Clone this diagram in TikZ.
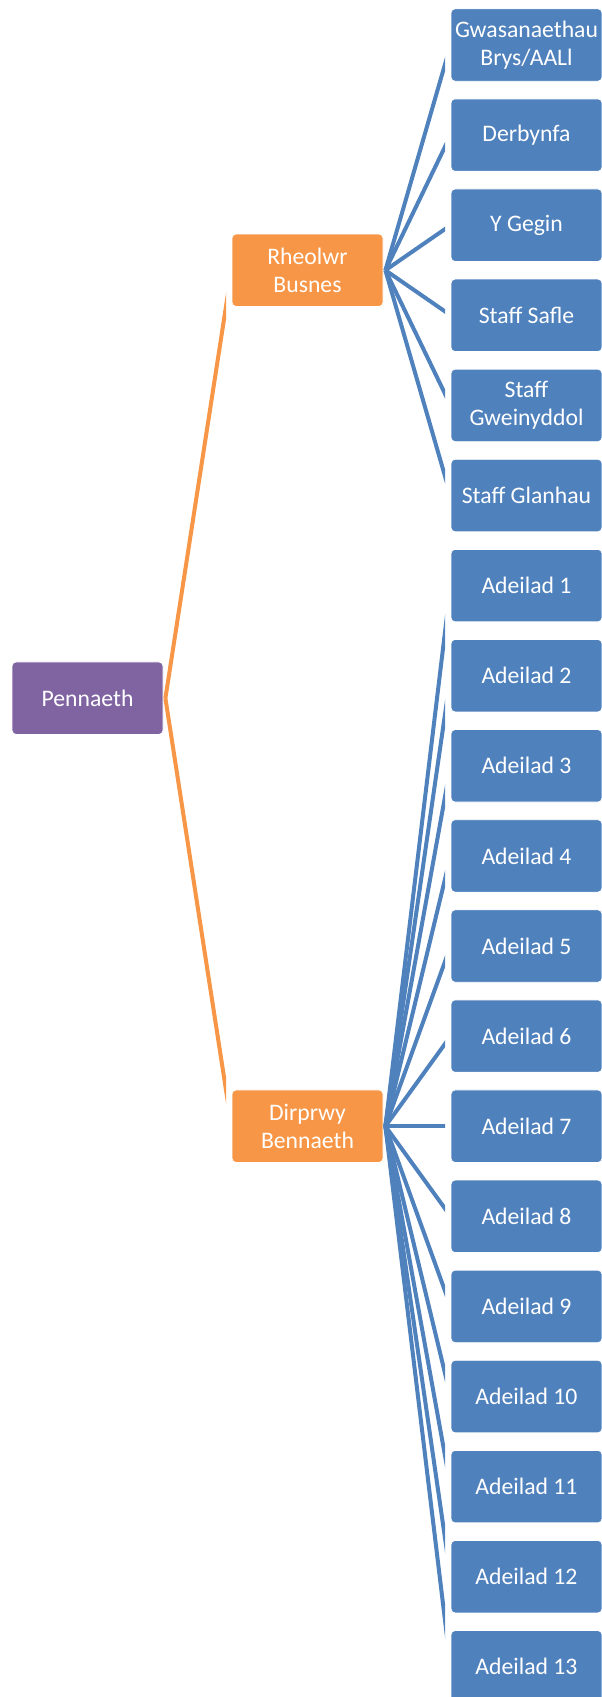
\documentclass[tikz,border=0pt]{standalone}
\usepackage{fontspec}
\setmainfont{Carlito}
\definecolor{headpurple}{HTML}{8064A2}
\definecolor{mgrorange}{HTML}{F79646}
\definecolor{staffblue}{HTML}{4F81BD}
\begin{document}
\begin{tikzpicture}[x=1pt, y=-1pt,
	box/.style={shape=rectangle, rounded corners=4pt, draw=white, line width=0.8pt, minimum width=151pt, minimum height=72.5pt, inner sep=0pt, align=center, text=white, font=\fontsize{23.7}{27.5}\selectfont},
	headbox/.style={box, fill=headpurple},
	mgrbox/.style={box, fill=mgrorange},
	staffbox/.style={box, fill=staffblue},
	orangewire/.style={draw=mgrorange, line width=4pt},
	bluewire/.style={draw=staffblue, line width=4pt}]
	\useasboundingbox (0, 0) rectangle (602, 1697);
	% Head and managers:
	\node[headbox] (pennaeth) at (87.5, 698.2) {Pennaeth};
	\node[mgrbox] (rheolwr) at (307.5, 270.25) {Rheolwr\\Busnes};
	\node[mgrbox] (dirprwy) at (307.5, 1126.2) {Dirprwy\\Bennaeth};
	% Business manager's staff:
	\node[staffbox] (brys) at (526.5, 45) {Gwasanaethau\\Brys/AALl};
	\node[staffbox] (derbynfa) at (526.5, 135.1) {Derbynfa};
	\node[staffbox] (gegin) at (526.5, 225.2) {Y Gegin};
	\node[staffbox] (safle) at (526.5, 315.3) {Staff Safle};
	\node[staffbox] (gweinyddol) at (526.5, 405.4) {Staff\\Gweinyddol};
	\node[staffbox] (glanhau) at (526.5, 495.5) {Staff Glanhau};
	% Buildings:
	\node[staffbox] (adeilad1) at (526.5, 585.6) {Adeilad 1};
	\node[staffbox] (adeilad2) at (526.5, 675.7) {Adeilad 2};
	\node[staffbox] (adeilad3) at (526.5, 765.8) {Adeilad 3};
	\node[staffbox] (adeilad4) at (526.5, 855.9) {Adeilad 4};
	\node[staffbox] (adeilad5) at (526.5, 946) {Adeilad 5};
	\node[staffbox] (adeilad6) at (526.5, 1036.1) {Adeilad 6};
	\node[staffbox] (adeilad7) at (526.5, 1126.2) {Adeilad 7};
	\node[staffbox] (adeilad8) at (526.5, 1216.3) {Adeilad 8};
	\node[staffbox] (adeilad9) at (526.5, 1306.4) {Adeilad 9};
	\node[staffbox] (adeilad10) at (526.5, 1396.5) {Adeilad 10};
	\node[staffbox] (adeilad11) at (526.5, 1486.6) {Adeilad 11};
	\node[staffbox] (adeilad12) at (526.5, 1576.7) {Adeilad 12};
	\node[staffbox] (adeilad13) at (526.5, 1666.8) {Adeilad 13};
	% Wires (ends cut off square, short of the boxes):
	\begin{scope}
		\clip (0, 0) rectangle (226, 1697);
		\draw[orangewire] ([xshift=2pt]pennaeth.east) -- (rheolwr.west);
		\draw[orangewire] ([xshift=2pt]pennaeth.east) -- (dirprwy.west);
	\end{scope}
	\begin{scope}
		\clip (0, 0) rectangle (445, 1697);
		\draw[bluewire] ([xshift=2pt]rheolwr.east) -- (brys.west);
		\draw[bluewire] ([xshift=2pt]rheolwr.east) -- (derbynfa.west);
		\draw[bluewire] ([xshift=2pt]rheolwr.east) -- (gegin.west);
		\draw[bluewire] ([xshift=2pt]rheolwr.east) -- (safle.west);
		\draw[bluewire] ([xshift=2pt]rheolwr.east) -- (gweinyddol.west);
		\draw[bluewire] ([xshift=2pt]rheolwr.east) -- (glanhau.west);
		\draw[bluewire] ([xshift=2pt]dirprwy.east) -- (adeilad1.west);
		\draw[bluewire] ([xshift=2pt]dirprwy.east) -- (adeilad2.west);
		\draw[bluewire] ([xshift=2pt]dirprwy.east) -- (adeilad3.west);
		\draw[bluewire] ([xshift=2pt]dirprwy.east) -- (adeilad4.west);
		\draw[bluewire] ([xshift=2pt]dirprwy.east) -- (adeilad5.west);
		\draw[bluewire] ([xshift=2pt]dirprwy.east) -- (adeilad6.west);
		\draw[bluewire] ([xshift=2pt]dirprwy.east) -- (adeilad7.west);
		\draw[bluewire] ([xshift=2pt]dirprwy.east) -- (adeilad8.west);
		\draw[bluewire] ([xshift=2pt]dirprwy.east) -- (adeilad9.west);
		\draw[bluewire] ([xshift=2pt]dirprwy.east) -- (adeilad10.west);
		\draw[bluewire] ([xshift=2pt]dirprwy.east) -- (adeilad11.west);
		\draw[bluewire] ([xshift=2pt]dirprwy.east) -- (adeilad12.west);
		\draw[bluewire] ([xshift=2pt]dirprwy.east) -- (adeilad13.west);
	\end{scope}
\end{tikzpicture}
\end{document}
